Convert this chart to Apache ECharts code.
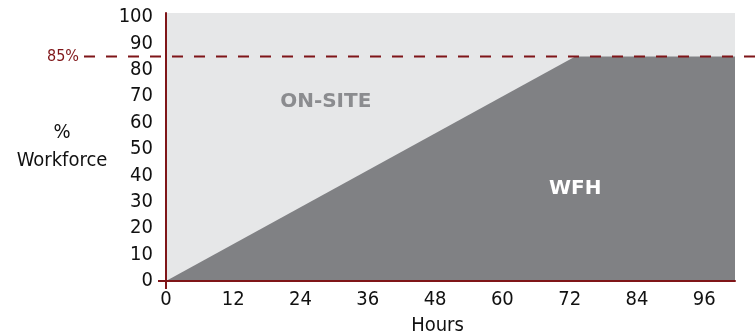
<!DOCTYPE html>
<html>
<head>
<meta charset="utf-8">
<script src="https://cdn.jsdelivr.net/npm/echarts@6/dist/echarts.min.js"></script>
<style>
  html, body { margin: 0; padding: 0; background: #fff; }
  #chart { width: 756px; height: 335px; }
</style>
</head>
<body>
<div id="chart"></div>
<script>
// 数据
const hourTicks = [0, 12, 24, 36, 48, 60, 72, 84, 96];
const pctTicks = [0, 10, 20, 30, 40, 50, 60, 70, 80, 90, 100];
const wfhHours = [0, 73, 101.5];
const wfhPct = [0, 85, 85];
const targetPct = 85;

const red = "#7f1518";
const numFont = "DejaVu Sans Condensed, DejaVu Sans";

const chart = echarts.init(document.getElementById("chart"));

const option = {
  animation: false,
  grid: {
    left: 166,
    right: 21,
    top: 13,
    bottom: 54,
    outerBoundsMode: "none",
    containLabel: false,
    show: true,
    backgroundColor: "#e6e7e8",
    borderWidth: 0,
  },
  xAxis: {
    type: "value",
    min: 0,
    max: 101.5,
    z: 10,
    splitLine: { show: false },
    axisLine: { show: true, onZero: false, lineStyle: { color: red, width: 2 } },
    axisTick: { show: true, customValues: [0], length: 8, lineStyle: { color: red, width: 2 } },
    axisLabel: {
      customValues: hourTicks,
      color: "#111",
      fontFamily: numFont,
      fontSize: 20,
      margin: 9,
    },
    name: "Hours",
    nameLocation: "middle",
    nameGap: 35,
    nameTextStyle: { color: "#111", fontFamily: numFont, fontSize: 20, padding: [0, 26, 0, 0] },
  },
  yAxis: {
    type: "value",
    min: 0,
    max: 101.5,
    z: 10,
    splitLine: { show: false },
    axisLine: { show: true, lineStyle: { color: red, width: 2 } },
    axisTick: { show: true, customValues: [0], length: 8, lineStyle: { color: red, width: 2 } },
    axisLabel: {
      customValues: pctTicks,
      color: "#111",
      fontFamily: numFont,
      fontSize: 20,
      margin: 13,
      padding: [4, 0, 0, 0],
    },
    name: "%\nWorkforce",
    nameLocation: "middle",
    nameRotate: 0,
    nameGap: 104,
    nameTextStyle: { color: "#111", fontFamily: numFont, fontSize: 20, align: "center", lineHeight: 28 },
  },
  series: [
    {
      type: "line",
      name: "WFH",
      data: wfhHours.map((h, i) => [h, wfhPct[i]]),
      symbol: "none",
      lineStyle: { width: 0 },
      areaStyle: { color: "#808184", opacity: 1 },
      z: 1,
    },
  ],
};
chart.setOption(option);

// 85% 虚线 + 区域文字
const yLine = chart.convertToPixel({ yAxisIndex: 0 }, targetPct);
const onsite = chart.convertToPixel({ gridIndex: 0 }, [28.5, 68]);
const wfh = chart.convertToPixel({ gridIndex: 0 }, [73, 35]);
const labelFont = "bold 20px 'DejaVu Sans'";
chart.setOption({
  graphic: [
    {
      type: "line",
      shape: { x1: 84, y1: yLine, x2: 756, y2: yLine },
      style: { stroke: red, lineWidth: 2, lineDash: [11, 11] },
      z: 100,
    },
    {
      type: "text",
      x: 79,
      y: yLine,
      z: 100,
      style: { text: targetPct + "%", fill: red, font: "16px " + numFont, align: "right", verticalAlign: "middle" },
    },
    {
      type: "text",
      x: onsite[0],
      y: onsite[1],
      z: 100,
      style: { text: "ON-SITE", fill: "#8b8c8f", font: labelFont, align: "center", verticalAlign: "middle" },
    },
    {
      type: "text",
      x: wfh[0],
      y: wfh[1],
      z: 100,
      style: { text: "WFH", fill: "#ffffff", font: labelFont, align: "center", verticalAlign: "middle" },
    },
  ],
});
</script>
</body>
</html>
